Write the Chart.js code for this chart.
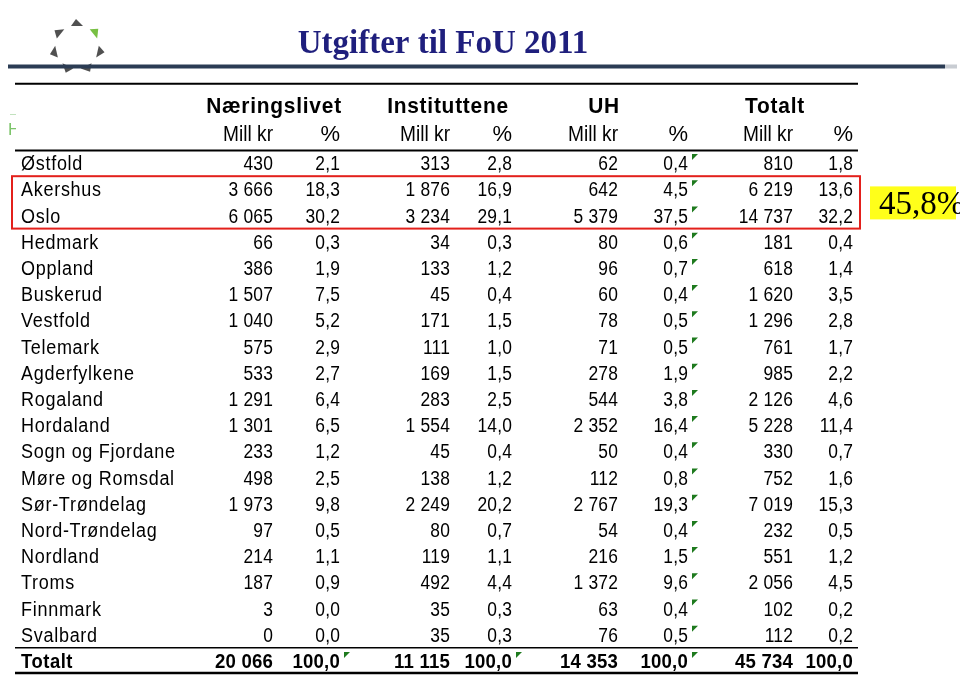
<!DOCTYPE html>
<html>
<head>
<meta charset="utf-8">
<script src="https://cdn.jsdelivr.net/npm/chart.js@4"></script>
<style>
html,body{margin:0;padding:0;background:#fff;}
#wrap{position:relative;width:960px;height:676px;}
</style>
</head>
<body>
<div id="wrap"><canvas id="c"></canvas></div>
<script>
// ---------- DATA ----------
const title = 'Utgifter til FoU 2011';
const sectors = ['Næringslivet', 'Instituttene', 'UH', 'Totalt'];
const unitLabels = ['Mill kr', '%'];
const regions = ['Østfold','Akershus','Oslo','Hedmark','Oppland','Buskerud','Vestfold','Telemark','Agderfylkene','Rogaland','Hordaland','Sogn og Fjordane','Møre og Romsdal','Sør-Trøndelag','Nord-Trøndelag','Nordland','Troms','Finnmark','Svalbard','Totalt'];
const naeringMill = [430,3666,6065,66,386,1507,1040,575,533,1291,1301,233,498,1973,97,214,187,3,0,20066];
const naeringPct  = [2.1,18.3,30.2,0.3,1.9,7.5,5.2,2.9,2.7,6.4,6.5,1.2,2.5,9.8,0.5,1.1,0.9,0.0,0.0,100.0];
const instMill    = [313,1876,3234,34,133,45,171,111,169,283,1554,45,138,2249,80,119,492,35,35,11115];
const instPct     = [2.8,16.9,29.1,0.3,1.2,0.4,1.5,1.0,1.5,2.5,14.0,0.4,1.2,20.2,0.7,1.1,4.4,0.3,0.3,100.0];
const uhMill      = [62,642,5379,80,96,60,78,71,278,544,2352,50,112,2767,54,216,1372,63,76,14353];
const uhPct       = [0.4,4.5,37.5,0.6,0.7,0.4,0.5,0.5,1.9,3.8,16.4,0.4,0.8,19.3,0.4,1.5,9.6,0.4,0.5,100.0];
const totMill     = [810,6219,14737,181,618,1620,1296,761,985,2126,5228,330,752,7019,232,551,2056,102,112,45734];
const totPct      = [1.8,13.6,32.2,0.4,1.4,3.5,2.8,1.7,2.2,4.6,11.4,0.7,1.6,15.3,0.5,1.2,4.5,0.2,0.2,100.0];
const highlightRows = ['Akershus', 'Oslo'];
const highlightLabel = '45,8%';

// ---------- LAYOUT (positions / styles) ----------
const columns = [
  {values: naeringMill, kind: 'mill', x: 273},
  {values: naeringPct,  kind: 'pct',  x: 340, flagRows: ['Totalt']},
  {values: instMill,    kind: 'mill', x: 450},
  {values: instPct,     kind: 'pct',  x: 512, flagRows: ['Totalt']},
  {values: uhMill,      kind: 'mill', x: 618},
  {values: uhPct,       kind: 'pct',  x: 688, flagRows: regions},
  {values: totMill,     kind: 'mill', x: 793},
  {values: totPct,      kind: 'pct',  x: 853}
];
const sectorCenters = [274, 448, 604, 775];
const SX = 0.87;
const FONT = '"Liberation Sans", Arial, sans-serif';

function fmtMill(n){ return String(n).replace(/\B(?=(\d{3})+(?!\d))/g, ' '); }
function fmtPct(n){ return n.toFixed(1).replace('.', ','); }

const datasets = columns.map((col, ci) => ({
  label: 'col' + ci,
  data: regions.map((r, i) => ({x: col.x, y: r, v: col.values[i]})),
  pointRadius: 0,
  pointHoverRadius: 0,
  showLine: false
}));

function drawText(ctx, text, x, y, font, align, sx, spacing, color){
  ctx.save();
  ctx.font = font;
  ctx.fillStyle = color || '#000';
  ctx.textAlign = align;
  ctx.textBaseline = 'alphabetic';
  ctx.letterSpacing = (spacing || 0) + 'px';
  ctx.translate(x, y);
  ctx.scale(sx, 1);
  ctx.fillText(text, 0, 0);
  ctx.restore();
}

const tablePlugin = {
  id: 'tablePlugin',
  afterDatasetsDraw(chart){
    const ctx = chart.ctx;
    const ys = chart.scales.y;
    const xs = chart.scales.x;
    const L = 15, R = 858;
    const rowY = i => ys.getPixelForValue(i);
    const lastIdx = regions.length - 1;

    // ---- slide decorations ----
    // logo: ring of seven arrow-like triangles
    const cx = 77, cy = 47, rr = 24;
    for (let k = 0; k < 7; k++){
      const a = -Math.PI/2 + k * 2*Math.PI/7;
      const ox = Math.cos(a), oy = Math.sin(a);
      const tx = -oy, ty = ox;
      const px = cx + rr*ox, py = cy + rr*oy;
      ctx.save();
      ctx.fillStyle = k === 1 ? '#78c043' : '#505050';
      ctx.beginPath();
      ctx.moveTo(px + 4*ox - 1*tx, py + 4*oy - 1*ty);
      ctx.lineTo(px - 3*ox + 6*tx, py - 3*oy + 6*ty);
      ctx.lineTo(px - 3*ox - 6*tx, py - 3*oy - 6*ty);
      ctx.closePath();
      ctx.fill();
      ctx.restore();
    }
    // title
    drawText(ctx, title, 443, 53, 'bold 33px "Liberation Serif", "Times New Roman", serif', 'center', 1, 0, '#1f1f7d');
    // thick rule
    ctx.save();
    ctx.fillStyle = '#2b3c54';
    ctx.fillRect(8, 64.5, 937, 4);
    ctx.fillStyle = '#c8ccd2';
    ctx.fillRect(945, 64.5, 12, 4);
    ctx.restore();
    // small green glyph at the left edge
    ctx.save();
    ctx.beginPath(); ctx.rect(0, 110, 16, 30); ctx.clip();
    drawText(ctx, 'H', 8, 135, '17px ' + FONT, 'left', 1, 0, '#7cc46a');
    ctx.fillStyle = 'rgba(120,190,110,0.45)';
    ctx.fillRect(10, 114, 6, 1);
    ctx.restore();

    // ---- table rules ----
    const hline = (y, w) => { ctx.save(); ctx.strokeStyle = '#000'; ctx.lineWidth = w; ctx.beginPath(); ctx.moveTo(L, y); ctx.lineTo(R, y); ctx.stroke(); ctx.restore(); };
    hline(rowY(-3.03), 2);
    hline(chart.chartArea.top + 0.5, 2);
    hline(rowY(lastIdx - 0.5), 1.6);
    hline(chart.chartArea.bottom - 1, 2.5);

    // ---- headers ----
    const h1 = rowY(-2.2) + 8, h2 = rowY(-1.13) + 8;
    sectors.forEach((s, i) => drawText(ctx, s, xs.getPixelForValue(sectorCenters[i]), h1, 'bold 22px ' + FONT, 'center', 0.95, 0.8));
    columns.forEach(col => {
      const t = col.kind === 'mill' ? unitLabels[0] : unitLabels[1];
      drawText(ctx, t, xs.getPixelForValue(col.x), h2, '22px ' + FONT, 'right', col.kind === 'mill' ? 0.87 : 1.0, 0);
    });

    // ---- row names ----
    regions.forEach((r, i) => {
      const bold = i === lastIdx;
      drawText(ctx, r, 21, rowY(i) + 7, (bold ? 'bold ' : '') + '20px ' + FONT, 'left', bold ? 0.92 : 0.9, bold ? 0.6 : 0.8);
    });

    // ---- cells ----
    chart.data.datasets.forEach((ds, di) => {
      const meta = chart.getDatasetMeta(di);
      const col = columns[di];
      meta.data.forEach((el, i) => {
        const v = ds.data[i].v;
        const txt = col.kind === 'mill' ? fmtMill(v) : fmtPct(v);
        const bold = i === lastIdx;
        drawText(ctx, txt, el.x, el.y + 7, (bold ? 'bold ' : '') + '20px ' + FONT, 'right', bold ? 0.93 : SX, 0.2);
        if (col.flagRows && col.flagRows.includes(regions[i])){
          ctx.save();
          ctx.fillStyle = '#1e7a1e';
          const fx = el.x + 4, fy = el.y - 9;
          ctx.beginPath();
          ctx.moveTo(fx, fy); ctx.lineTo(fx + 6, fy); ctx.lineTo(fx, fy + 6);
          ctx.closePath(); ctx.fill();
          ctx.restore();
        }
      });
    });

    // ---- highlight box ----
    const i0 = regions.indexOf(highlightRows[0]);
    const i1 = regions.indexOf(highlightRows[highlightRows.length - 1]);
    const top = rowY(i0 - 0.5), bot = rowY(i1 + 0.5);
    ctx.save();
    ctx.strokeStyle = '#e3201b';
    ctx.lineWidth = 2;
    ctx.strokeRect(12, top, 860 - 12, bot - top);
    ctx.fillStyle = '#ffff1a';
    const my = (top + bot) / 2;
    ctx.fillRect(870, my - 16, 86, 33);
    ctx.restore();
    drawText(ctx, highlightLabel, 879, my + 12, '33px "Liberation Serif", "Times New Roman", serif', 'left', 1, 0, '#000');
  }
};

new Chart(document.getElementById('c'), {
  type: 'scatter',
  data: { labels: regions, datasets },
  options: {
    responsive: true,
    maintainAspectRatio: false,
    animation: false,
    events: [],
    layout: { padding: { top: 150, bottom: 2, left: 0, right: 0 } },
    plugins: { legend: { display: false }, tooltip: { enabled: false } },
    scales: {
      x: { type: 'linear', min: 0, max: 960, display: false, grid: { display: false } },
      y: { type: 'category', labels: regions, offset: true, display: false, grid: { display: false } }
    }
  },
  plugins: [tablePlugin]
});
</script>
</body>
</html>
